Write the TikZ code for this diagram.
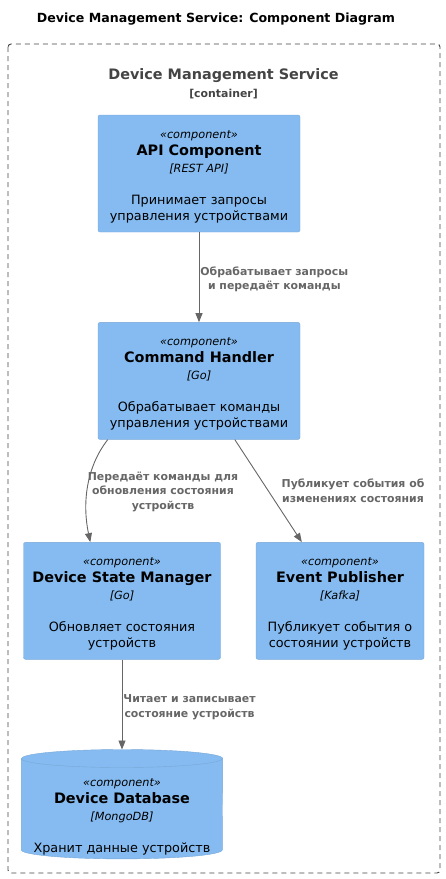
\documentclass[tikz,border=0pt]{standalone}
\usepackage{fontspec}
\setmainfont{DejaVu Sans}
\usetikzlibrary{shapes.geometric,arrows.meta,positioning}
\definecolor{compblue}{HTML}{85BBF0}
\definecolor{compline}{HTML}{78A8D8}
\definecolor{linkgray}{HTML}{666666}
\definecolor{boundgray}{HTML}{444444}

\newcommand{\comptext}[3]{%
  {\fontsize{11.3}{16}\selectfont\itshape\rule{0pt}{14pt}«component»}\\[1pt]
  {\fontsize{14.4}{16}\selectfont\bfseries #1}\\[1pt]
  {\fontsize{11.3}{16}\selectfont\itshape [#2]}\\[16pt]
  #3}

\begin{document}
\begin{tikzpicture}[
    x=1pt, y=-1pt,
    node distance=90pt and 36pt,
    comp/.style={rectangle, draw=compline, fill=compblue, rounded corners=2pt,
                 minimum width=202pt, minimum height=117pt, align=center,
                 inner sep=0pt, font=\fontsize{12.8}{16}\selectfont},
    dbbox/.style={rectangle, minimum width=201pt, minimum height=109pt, inner sep=0pt},
    dbcyl/.style={draw=compline, fill=compblue},
    dbtext/.style={align=center, inner sep=0pt, font=\fontsize{12.8}{16}\selectfont},
    arr/.style={-{Triangle[length=9pt, width=7pt]}, draw=linkgray, line width=0.9pt},
    lbl/.style={font=\fontsize{10.9}{14.5}\selectfont\bfseries, text=linkgray,
                align=center, inner sep=1pt},
  ]
    \useasboundingbox (0,0) rectangle (445,879);

    % Title and boundary
    \node[font=\fontsize{12.6}{15}\selectfont\bfseries] (title) at (216,19.5)
      {Device Management Service: Component Diagram};
    \draw[boundgray, line width=0.9pt, dash pattern=on 5pt off 4pt, rounded corners=3pt]
      (8,44) rectangle (440,873);
    \node[font=\fontsize{14.4}{16}\selectfont\bfseries, text=boundgray] (bname) at (223.5,76)
      {Device Management Service};
    \node[font=\fontsize{10.9}{12}\selectfont\bfseries, text=boundgray, below=-1pt of bname] (btype)
      {[container]};

    % Components
    \node[comp] (api) at (199,173.5)
      {\comptext{API Component}{REST API}{Принимает запросы\\управления устройствами}};
    \node[comp, below=of api] (ch)
      {\comptext{Command Handler}{Go}{Обрабатывает команды\\управления устройствами}};
    \node[comp, minimum width=197pt] (dsm) at (122,600.8)
      {\comptext{Device State Manager}{Go}{Обновляет состояния\\устройств}};
    \node[comp, minimum width=168pt] (ep) at (340,600.8)
      {\comptext{Event Publisher}{Kafka}{Публикует события о\\состоянии устройств}};

    % Database cylinder
    \node[dbbox, below=of dsm] (db) {};
    \draw[dbcyl] ([yshift=-9pt]db.north west) -- ([yshift=9pt]db.south west)
      arc[start angle=180, end angle=360, x radius=100.5pt, y radius=9pt]
      -- ([yshift=-9pt]db.north east)
      arc[start angle=0, end angle=180, x radius=100.5pt, y radius=9pt] -- cycle;
    \draw[compline] ([yshift=-9pt]db.north west)
      arc[start angle=180, end angle=360, x radius=100.5pt, y radius=9pt];
    \node[dbtext] (dbt) at ([yshift=-10pt]db.center)
      {\comptext{Device Database}{MongoDB}{Хранит данные устройств}};

    % Arrows
    \draw[arr] (api) -- (ch)
      node[lbl, midway, right, yshift=-2pt] (l1) {Обрабатывает запросы\\и передаёт команды};
    \draw[arr] ([xshift=10pt]ch.south west) .. controls +(-22,28) and +(-8,-38) ..
      ([xshift=67pt]dsm.north west);
    \draw[arr] ([xshift=137pt]ch.south west) -- ([xshift=46pt]ep.north west);
    \draw[arr] (dsm) -- (db)
      node[lbl, midway, right, yshift=-2.5pt] (l4) {Читает и записывает\\состояние устройств};

    % Labels
    \node[lbl] (l2) at (163,491.5) {Передаёт команды для\\обновления состояния\\устройств};
    \node[lbl] (l3) at (353,491) {Публикует события об\\изменениях состояния};
  \end{tikzpicture}
\end{document}
